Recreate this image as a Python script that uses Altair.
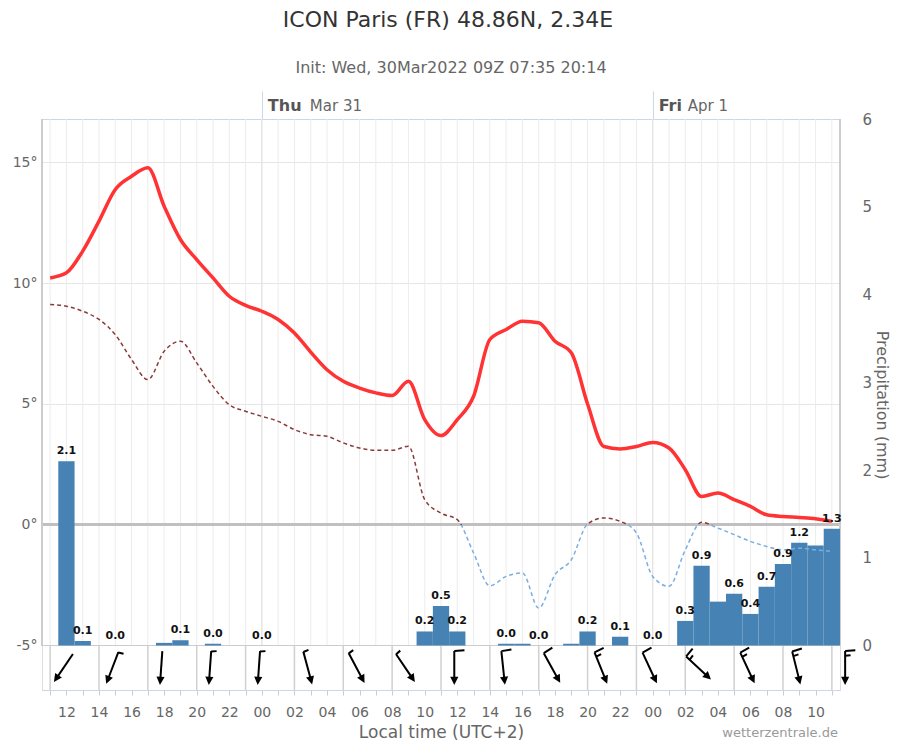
import altair as alt
import pandas as pd

# ---------------- data ----------------
title_text = "ICON Paris (FR) 48.86N, 2.34E"
subtitle_text = "Init: Wed, 30Mar2022 09Z 07:35 20:14"
watermark_text = "wetterzentrale.de"

times = pd.date_range("2022-03-30 11:00", "2022-04-01 11:00", freq="h")
temperature = [10.22, 10.43, 11.33, 12.57, 13.88, 14.43, 14.78, 13.19, 11.81, 10.98,
               10.22, 9.46, 9.08, 8.84, 8.50, 7.94, 7.15,
               6.42, 5.94, 5.66, 5.46, 5.35, 5.94, 4.35, 3.69, 4.35, 5.32, 7.67, 8.08,
               8.43, 8.36, 7.60, 7.12, 5.00,
               3.24, 3.14, 3.24, 3.41, 3.18, 2.28, 1.17, 1.31, 1.04, 0.76, 0.41, 0.34,
               0.30, 0.25, 0.14]
dewpoint = [9.12, 9.05, 8.84, 8.50, 7.87, 6.84, 6.01, 7.18, 7.60, 6.70, 5.73, 4.97,
            4.70, 4.49, 4.28, 3.94, 3.73,
            3.66, 3.39, 3.18, 3.08, 3.08, 3.25, 1.04, 0.48, 0.21, -1.17, -2.53, -2.14,
            -2.00, -3.45, -2.07, -1.45, 0.03,
            0.28, 0.14, -0.34, -2.14, -2.55, -1.04, 0.10, -0.14, -0.41, -0.69, -0.90,
            -1.04, -0.97, -1.04, -1.10]
precipitation = [0, 2.1, 0.05, 0, 0, 0, 0, 0.03, 0.06, 0, 0.02, 0, 0,
                 0, 0, 0, 0, 0, 0, 0, 0, 0, 0,
                 0.16, 0.45, 0.16, 0, 0, 0.02, 0.02, 0, 0, 0.02, 0.16, 0, 0.1, 0, 0, 0,
                 0.28, 0.91, 0.50, 0.59, 0.36, 0.67, 0.93, 1.17, 1.14, 1.33]
labelled = [1, 2, 4, 8, 10, 13, 23, 24, 25, 28, 30, 33, 35, 37, 39, 40, 42, 43, 44,
            45, 46, 48]

wind_times = pd.date_range("2022-03-30 12:00", "2022-04-01 12:00", freq="3h")
wind_from = [34, 21, 4, 4, 4, 345, 332, 326, 0, 354, 331, 338, 335, 313, 335, 346, 0]
wind_kt = [3, 5, 3, 5, 6, 6, 7, 7, 10, 10, 10, 15, 10, 15, 15, 15, 15]
divider_times = pd.date_range("2022-03-30 11:00", "2022-04-01 11:00", freq="3h")

day_starts = ["2022-03-31 00:00", "2022-04-01 00:00"]
day_names = ["Thu", "Fri"]
day_dates = ["Mar 31", "Apr 1"]
day_name_width = [42, 29]

t0 = pd.Timestamp("2022-03-30 00:00")


def hours(ts):
    return [(pd.Timestamp(t) - t0).total_seconds() / 3600 for t in ts]


df = pd.DataFrame({
    "h": hours(times),
    "temp": temperature,
    "dew": dewpoint,
    "precip": precipitation,
})
df["lbl"] = [i in labelled for i in range(len(df))]


def barb_kind(kt):
    if kt < 5:
        return "calm"
    if kt < 10:
        return "half"
    if kt < 15:
        return "full"
    return "fullhalf"


wind = pd.DataFrame({"h": hours(wind_times), "wfrom": wind_from, "kt": wind_kt})
wind["kind"] = [barb_kind(k) for k in wind_kt]
dividers = pd.DataFrame({"h": hours(divider_times)})
days = pd.DataFrame({"h": hours(day_starts), "dn": day_names, "dt": day_dates,
                     "w": day_name_width})

# ---------------- scales ----------------
FONT = "DejaVu Sans"
GREY = "#666666"
xs = alt.Scale(domain=[10.5, 59.5], nice=False, zero=False)
ts = alt.Scale(domain=[-6.843, 16.80], nice=False, zero=False)
ps = alt.Scale(domain=[-0.507, 6.0], nice=False, zero=False)
TOP_T = 16.80

base = alt.Chart(df)

# vertical hourly grid
vgrid = base.mark_rule(color="#ececec", strokeWidth=1).encode(
    x=alt.X("h:Q", scale=xs, axis=None),
    y=alt.Y(datum=-5, scale=ts, axis=None),
    y2=alt.Y2(datum=TOP_T),
)

zero_line = alt.Chart(df).mark_rule(color="#c0c0c0", strokeWidth=2).encode(
    y=alt.Y(datum=0, scale=ts, axis=None)
)
bottom_line = alt.Chart(df).mark_rule(color="#cccccc", strokeWidth=1).encode(
    y=alt.Y(datum=-5, scale=ts, axis=None)
)
left_border = alt.Chart(df).mark_rule(color="#cccccc", strokeWidth=1).encode(
    x=alt.value(0), y=alt.Y(datum=-5, scale=ts, axis=None), y2=alt.Y2(datum=TOP_T)
)
right_border = alt.Chart(df).mark_rule(color="#cccccc", strokeWidth=1).encode(
    x=alt.value(798), y=alt.Y(datum=-5, scale=ts, axis=None), y2=alt.Y2(datum=TOP_T)
)

strip_div = alt.Chart(dividers).mark_rule(color="#d0d0d0", strokeWidth=1.5).encode(
    x=alt.X("h:Q", scale=xs, axis=None),
    y=alt.Y(datum=-5, scale=ts, axis=None),
    y2=alt.Y2(datum=-6.843),
)

bottom_axis = alt.Axis(
    orient="bottom",
    values=list(range(11, 60)),
    labelExpr="datum.value % 2 == 0 ? ((datum.value % 24) < 10 ? '0' : '') + (datum.value % 24) : ''",
    tickSize=5, tickColor="#cccccc", domainColor="#ccd6eb", grid=False,
    labelFont=FONT, labelFontSize=14, labelColor=GREY, labelPadding=10,
    labelFlush=False, labelOverlap=False,
    title="Local time (UTC+2)", titleFont=FONT, titleFontSize=17, titleColor=GREY,
    titleFontWeight="normal", titlePadding=5,
)
precip_axis = alt.Axis(
    orient="right", values=[0, 1, 2, 3, 4, 5, 6], domain=False, ticks=False, grid=False,
    labelFont=FONT, labelFontSize=15, labelColor=GREY, labelPadding=22,
    title="Precipitation (mm)", titleFont=FONT, titleFontSize=16, titleColor=GREY,
    titleFontWeight="normal", titlePadding=2,
)

bars = base.transform_calculate(
    x0="datum.h - 0.5", x1="datum.h + 0.5"
).mark_bar(color="#4682b4").encode(
    x=alt.X("x0:Q", scale=xs, axis=bottom_axis),
    x2=alt.X2("x1:Q"),
    y=alt.Y("precip:Q", scale=ps, axis=precip_axis),
    y2=alt.Y2(datum=0),
)

frac = max(dewpoint) / (max(dewpoint) - min(dewpoint))
DEW_WARM = "#8b3a3a"
DEW_COLD = "#7aaee0"
dew_grad = alt.LinearGradient(
    gradient="linear", x1=0, x2=0, y1=0, y2=1,
    stops=[alt.GradientStop(color=DEW_WARM, offset=0),
           alt.GradientStop(color=DEW_WARM, offset=frac),
           alt.GradientStop(color=DEW_COLD, offset=frac),
           alt.GradientStop(color=DEW_COLD, offset=1)],
)
dew_line = base.mark_line(stroke=dew_grad, strokeWidth=1.5, strokeDash=[4, 3],
                          interpolate="monotone").encode(
    x=alt.X("h:Q", scale=xs, axis=None),
    y=alt.Y("dew:Q", scale=ts, axis=None),
)

temp_axis = alt.Axis(
    orient="left", values=[-5, 0, 5, 10, 15], labelExpr="datum.value + '°'",
    domain=False, ticks=False, grid=True, gridColor="#e6e6e6",
    labelFont=FONT, labelFontSize=14, labelColor=GREY, labelPadding=5, title=None,
)
temp_line = base.mark_line(color="#ff3333", strokeWidth=3.5,
                           interpolate="monotone").encode(
    x=alt.X("h:Q", scale=xs, axis=None),
    y=alt.Y("temp:Q", scale=ts, axis=temp_axis),
)

bar_labels = base.transform_filter("datum.lbl").mark_text(
    font=FONT, fontWeight="bold", fontSize=11, baseline="bottom", dy=-5, color="#111111"
).encode(
    x=alt.X("h:Q", scale=xs, axis=None),
    y=alt.Y("precip:Q", scale=ps, axis=None),
    text=alt.Text("precip:Q", format=".1f"),
)

# wind barbs (arrow pointing down = wind from north; angle = direction wind comes from)
kinds = ["calm", "half", "full", "fullhalf"]
paths = [
    "M0,-1L0,0.6",
    "M0,-1L0,0.6M0,-0.98L0.32,-1.02",
    "M0,-1L0,0.6M0,-1L0.6,-1.04",
    "M0,-1L0,0.6M0,-1L0.6,-1.04M0,-0.72L0.32,-0.75",
]
barb_lines = alt.Chart(wind).mark_point(
    filled=False, stroke="black", strokeWidth=2, size=1150, opacity=1, xOffset=-3
).encode(
    x=alt.X("h:Q", scale=xs, axis=None),
    y=alt.value(549),
    angle=alt.Angle("wfrom:Q", scale=None),
    shape=alt.Shape("kind:N", scale=alt.Scale(domain=kinds, range=paths), legend=None),
)
barb_heads = alt.Chart(wind).mark_point(
    filled=True, color="black", size=1150, opacity=1, xOffset=-3,
    shape="M0,1L-0.24,0.52L0.24,0.52Z",
).encode(
    x=alt.X("h:Q", scale=xs, axis=None),
    y=alt.value(549),
    angle=alt.Angle("wfrom:Q", scale=None),
)

top_axis = alt.Axis(
    orient="top", values=[24, 48], tickSize=28, tickColor="#ccd6eb", labels=False,
    domainColor="#ccd6eb", grid=False, title=None,
)
day_bold = alt.Chart(days).mark_text(
    font=FONT, fontWeight="bold", fontSize=16, color="#555555", align="left",
    baseline="middle", dx=6,
).encode(
    x=alt.X("h:Q", scale=xs, axis=top_axis),
    y=alt.value(-13),
    text="dn:N",
)
day_date_layers = []
for i in range(len(days)):
    day_date_layers.append(
        alt.Chart(days.iloc[[i]]).mark_text(
            font=FONT, fontSize=15, color=GREY, align="left", baseline="middle",
            dx=6 + int(days["w"].iloc[i]),
        ).encode(
            x=alt.X("h:Q", scale=xs, axis=None),
            y=alt.value(-13),
            text="dt:N",
        )
    )
day_rule_in = alt.Chart(days).mark_rule(color="#e0e0e0", strokeWidth=1).encode(
    x=alt.X("h:Q", scale=xs, axis=None),
    y=alt.Y(datum=-5, scale=ts, axis=None),
    y2=alt.Y2(datum=TOP_T),
)

title_df = pd.DataFrame({"t": [title_text]})
sub_df = pd.DataFrame({"t": [subtitle_text]})
wm_df = pd.DataFrame({"t": [watermark_text]})
title_mark = alt.Chart(title_df).mark_text(
    font=FONT, fontSize=22, color="#333333", align="center", baseline="middle"
).encode(text="t:N", x=alt.value(406), y=alt.value(-99))
sub_mark = alt.Chart(sub_df).mark_text(
    font=FONT, fontSize=16, color=GREY, align="center", baseline="middle"
).encode(text="t:N", x=alt.value(409), y=alt.value(-51))
wm_mark = alt.Chart(wm_df).mark_text(
    font=FONT, fontSize=13, color="#999999", align="right", baseline="middle"
).encode(text="t:N", x=alt.value(796), y=alt.value(614))

chart = alt.layer(
    vgrid, day_rule_in, zero_line, bottom_line, left_border, right_border, strip_div,
    bars, dew_line, temp_line, bar_labels, barb_lines, barb_heads,
    day_bold, *day_date_layers, title_mark, sub_mark, wm_mark,
).resolve_scale(
    y="independent"
).resolve_axis(
    x="independent", y="independent"
).properties(
    width=798, height=571,
    autosize=alt.AutoSizeParams(type="none"),
    padding={"left": 34, "top": 111, "right": 52, "bottom": 52},
).configure_view(stroke=None).configure(font=FONT)

chart.save("out.html", embed_options={"renderer": "svg", "actions": False})
